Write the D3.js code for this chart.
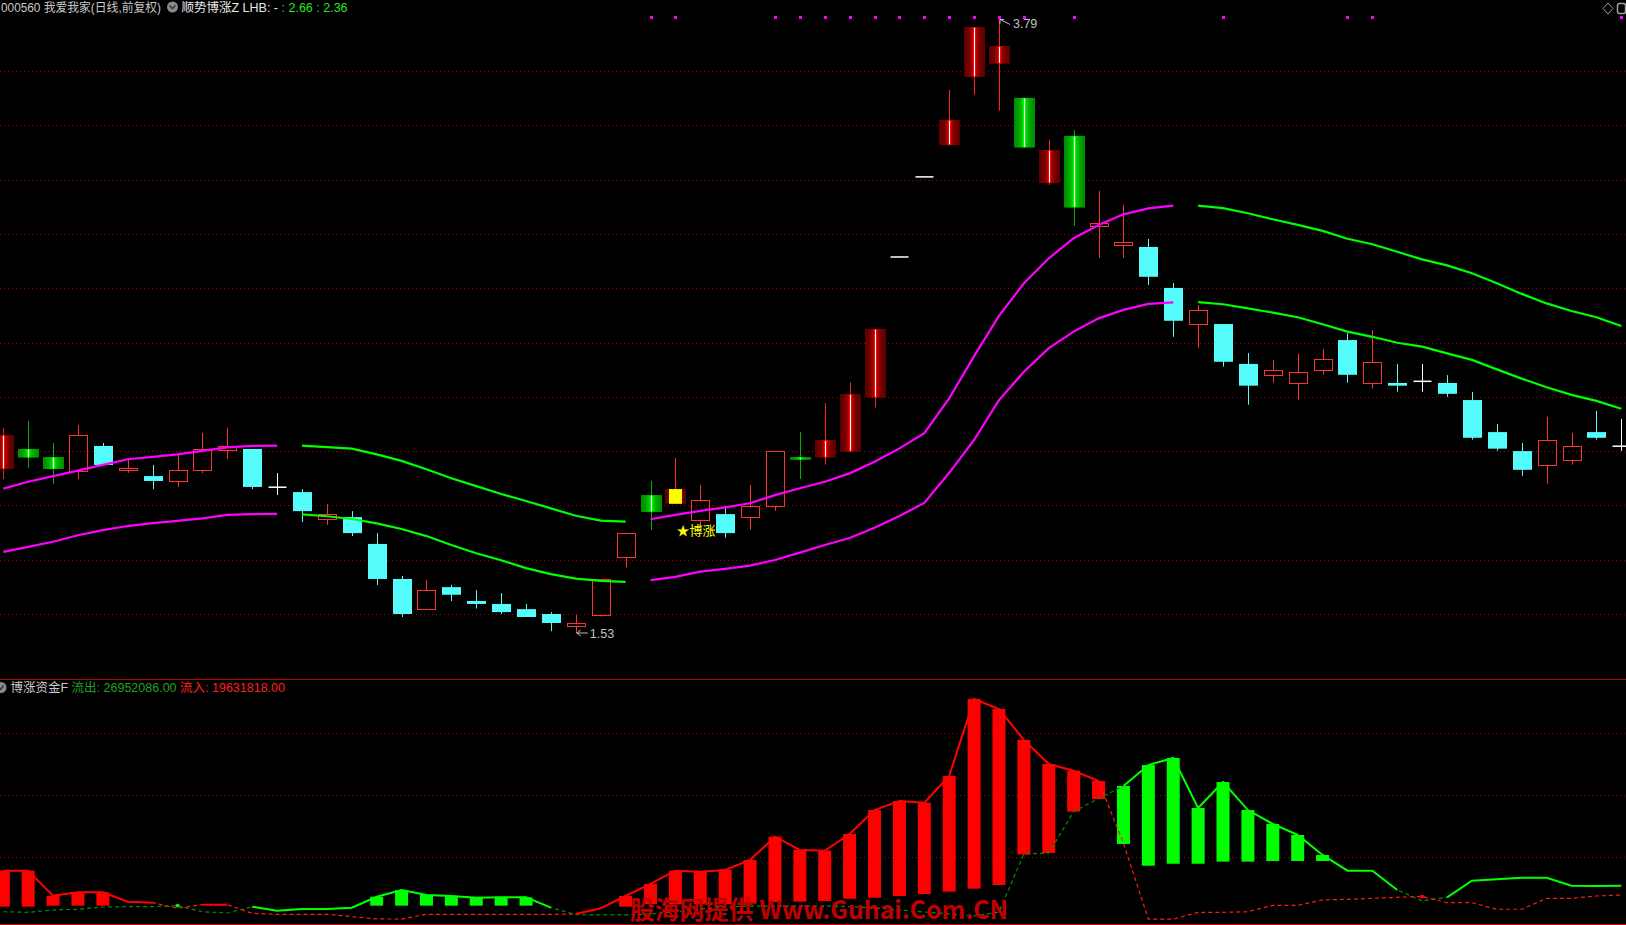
<!DOCTYPE html>
<html><head><meta charset="utf-8">
<script src="https://cdn.jsdelivr.net/npm/d3@7"></script>
<style>
html,body{margin:0;padding:0;background:#000;overflow:hidden}
svg{display:block}
text{font-family:"Liberation Sans","Noto Sans CJK SC",sans-serif}
</style></head><body>
<svg id="chart" width="1626" height="925"></svg>
<script>
// ---------- data ----------
const openP=[2.134,2.208,2.178,2.128,2.219,2.128,2.108,2.087,2.128,2.205, 2.208,2.067,2.049,1.947,1.957,1.858,1.729,1.616,1.699,1.648, 1.637,1.618,1.600,1.557,1.597,1.807,2.038,2.006,1.947,1.968, 1.955,1.995,2.178,2.176,2.198,2.397,2.915,3.21,3.327,3.578, 3.627,3.501,3.187,3.361,3.027,2.958,2.952,2.801,2.666,2.668, 2.521,2.479,2.450,2.498,2.609,2.450,2.451,2.457,2.451,2.388, 2.270,2.200,2.148,2.168,2.270,2.218];
const highP=[2.285,2.311,2.230,2.296,2.230,2.170,2.149,2.188,2.267,2.285, 2.208,2.119,2.060,2.005,1.979,1.898,1.740,1.725,1.708,1.688, 1.677,1.637,1.607,1.596,1.728,1.897,2.090,2.175,2.075,1.998, 2.075,2.199,2.270,2.377,2.453,2.650,2.915,3.21,3.53,3.762, 3.79,3.501,3.346,3.383,3.158,3.106,2.981,2.819,2.738,2.668, 2.561,2.536,2.558,2.576,2.634,2.646,2.521,2.521,2.480,2.418, 2.300,2.230,2.326,2.267,2.348,2.318];
const lowP=[2.097,2.139,2.080,2.097,2.149,2.120,2.060,2.068,2.119,2.171, 2.060,2.038,1.939,1.928,1.887,1.707,1.589,1.616,1.648,1.620, 1.600,1.589,1.537,1.530,1.590,1.771,1.909,2.006,1.928,1.881, 1.910,1.980,2.097,2.150,2.198,2.361,2.915,3.21,3.327,3.513, 3.454,3.318,3.180,3.029,2.912,2.912,2.812,2.621,2.581,2.511, 2.371,2.452,2.389,2.481,2.452,2.430,2.419,2.419,2.400,2.242, 2.201,2.109,2.080,2.150,2.242,2.201];
const closeP=[2.259,2.176,2.134,2.259,2.149,2.137,2.090,2.129,2.207,2.218, 2.068,2.067,1.979,1.967,1.898,1.729,1.600,1.687,1.671,1.637, 1.607,1.589,1.567,1.567,1.728,1.897,1.976,2.060,2.019,1.898, 1.997,2.199,2.168,2.241,2.410,2.650,2.915,3.21,3.420,3.762, 3.692,3.318,3.309,3.097,3.039,2.969,2.842,2.680,2.719,2.529, 2.441,2.498,2.490,2.538,2.481,2.527,2.441,2.457,2.411,2.249, 2.209,2.131,2.240,2.218,2.249,2.218];
// indicator candle state: 1 = strong (red), -1 = weak (green), 2 = 博涨 signal, 0 = plain
const signalState=[1,-1,-1,0,0,0,0,0,0,0, 0,0,0,0,0,0,0,0,0,0, 0,0,0,0,0,0,-1,2,0,0, 0,0,-1,1,1,1,0,0,1,1, 1,-1,1,-1,0,0,0,0,0,0, 0,0,0,0,0,0,0,0,0,0, 0,0,0,0,0,0];
const upperBand=[2.062,2.087,2.108,2.128,2.149,2.170,2.179,2.188,2.201,2.214, 2.219,2.220,2.220,2.215,2.209,2.188,2.164,2.133,2.100,2.071, 2.042,2.016,1.989,1.962,1.944,1.940,1.949,1.965,1.980,1.993, 2.008,2.038,2.063,2.087,2.118,2.161,2.210,2.266,2.394,2.550, 2.698,2.818,2.910,2.984,3.033,3.072,3.094,3.104,3.104,3.095, 3.076,3.054,3.033,3.011,2.982,2.962,2.934,2.906,2.884,2.855, 2.818,2.779,2.744,2.716,2.693,2.661];
const lowerBand=[1.829,1.847,1.866,1.890,1.909,1.924,1.935,1.943,1.952,1.965, 1.968,1.969,1.967,1.960,1.950,1.934,1.913,1.887,1.854,1.824, 1.798,1.769,1.747,1.730,1.722,1.718,1.725,1.737,1.756,1.766, 1.778,1.799,1.826,1.854,1.880,1.918,1.961,2.009,2.120,2.241, 2.388,2.492,2.579,2.640,2.689,2.720,2.742,2.748,2.749,2.741, 2.726,2.710,2.693,2.667,2.640,2.621,2.599,2.585,2.560,2.536, 2.501,2.467,2.435,2.407,2.385,2.356];
// 1 = rising band (magenta), -1 = falling band (green)
const bandTrend=[1,1,1,1,1,1,1,1,1,1, 1,1,-1,-1,-1,-1,-1,-1,-1,-1, -1,-1,-1,-1,-1,-1,1,1,1,1, 1,1,1,1,1,1,1,1,1,1, 1,1,1,1,1,1,1,1,-1,-1, -1,-1,-1,-1,-1,-1,-1,-1,-1,-1, -1,-1,-1,-1,-1,-1];
const alertDays=[26,27,31,32,33,34,35,36,37,38,39,40,41,43,49,54,55,65];
const priceTicks=[1.6,1.8,2.0,2.2,2.4,2.6,2.8,3.0,3.2,3.4,3.6];
// money flow panel (millions)
const inflow=[39.2,39.2,19.0,21.8,21.8,14.2,13.4,8.9,11.8,11.8, 4.8,4.0,4.0,4.0,2.1,0.3,0.2,4.0,4.0,4.0, 4.0,4.0,4.0,4.3,8.9,18.8,28.5,39.2,38.4,39.8, 47.8,66.6,55.9,55.3,68.8,88.1,95.4,94.0,115.6,177.7, 169.6,144.6,125.2,119.8,111.5,61.3,0.2,0.2,5.6,5.6, 6.1,11.3,11.3,15.6,16.1,16.9,17.7,18.4,13.4,13.4, 8.1,8.1,16.9,16.9,18.8,19.6];
const outflow=[6.1,5.6,7.5,8.1,9.9,10.2,10.2,11.0,6.1,5.1, 10.2,6.9,8.3,8.3,9.4,18.2,23.6,19.6,18.8,17.4, 17.7,17.7,9.4,3.8,3.5,3.5,4.3,5.9,8.3,9.9, 10.7,10.7,10.7,10.7,10.2,9.1,7.5,5.9,4.3,2.7, 5.9,52.7,53.5,86.8,97.4,107.5,124.4,130.1,89.8,110.7, 88.1,76.9,68.0,51.9,39.2,39.2,23.6,15.0,17.7,31.1, 32.3,33.5,33.5,27.1,26.9,27.0];
const stickBase=[10.2,10.2,11.0,11.0,11.0,null,null,null,null,null, null,null,null,null,null,11.0,11.0,11.0,11.0,11.0, 11.0,11.0,null,null,null,10.2,12.3,12.3,12.3,12.3, 12.7,14.0,14.2,14.8,16.6,17.4,18.8,20.4,22.3,24.7, 27.7,52.3,53.5,86.8,97.0,60.7,43.2,44.8,44.8,46.5, 46.5,47.0,47.0,47.0,null,null,null,null,null,null, null,null,null,null,null,null];
const flowTicks=[50,100,150];
const lastOut="26952086.00", lastIn="19631818.00";

// ---------- scales ----------
const N=openP.length;
const svg=d3.select("#chart");
svg.append("rect").attr("width",1626).attr("height",925).attr("fill","#000");
const x=d3.scaleLinear().domain([0,N-1]).range([3.3,1621.3]);
const y=d3.scaleLinear().domain([1.6,3.6]).range([614,71]);
const yB=d3.scaleLinear().domain([0,150]).range([919.3,733.3]);

const defs=svg.append("defs");
function grad(id,stops){
  const g=defs.append("linearGradient").attr("id",id).attr("x1","0%").attr("x2","100%").attr("y1","0%").attr("y2","0%");
  stops.forEach(s=>g.append("stop").attr("offset",s[0]).attr("stop-color",s[1]));
}
grad("gRed",[["0%","#5a0000"],["25%","#760000"],["40%","#b00000"],["47%","#ff1010"],["53%","#ff1010"],["60%","#b00000"],["75%","#760000"],["100%","#5a0000"]]);
grad("gGreen",[["0%","#008a00"],["25%","#00a800"],["40%","#00d000"],["47%","#10ff10"],["53%","#10ff10"],["60%","#00d000"],["75%","#00a800"],["100%","#008a00"]]);

// ---------- grid ----------
const grid=svg.append("g");
grid.selectAll("line.pg").data(priceTicks).join("line")
  .attr("x1",0).attr("x2",1626).attr("y1",d=>Math.round(y(d))+0.5).attr("y2",d=>Math.round(y(d))+0.5)
  .attr("stroke","#a00000").attr("stroke-dasharray","1,3");
grid.selectAll("line.fg").data(flowTicks).join("line")
  .attr("x1",0).attr("x2",1626).attr("y1",d=>Math.round(yB(d))+0.5).attr("y2",d=>Math.round(yB(d))+0.5)
  .attr("stroke","#a00000").attr("stroke-dasharray","1,3");
svg.append("line").attr("x1",0).attr("x2",1626).attr("y1",679.5).attr("y2",679.5).attr("stroke","#b00000");
svg.append("line").attr("x1",0).attr("x2",1626).attr("y1",924.5).attr("y2",924.5).attr("stroke","#c00000");

// ---------- candles ----------
const cg=svg.append("g");
const idx=d3.range(N);
idx.forEach(i=>{
  const cx=Math.round(x(i))+0.5, o=openP[i], c=closeP[i], h=highP[i], l=lowP[i], s=signalState[i];
  const yt=y(Math.max(o,c)), yb=y(Math.min(o,c));
  if(o===c && h===l){
    cg.append("line").attr("x1",cx-9).attr("x2",cx+9).attr("y1",y(c)).attr("y2",y(c)).attr("stroke","#fff").attr("stroke-width",1.5);
    return;
  }
  if(o===c){
    cg.append("line").attr("x1",cx).attr("x2",cx).attr("y1",y(h)).attr("y2",y(l)).attr("stroke","#fff");
    cg.append("line").attr("x1",cx-9).attr("x2",cx+9).attr("y1",y(c)).attr("y2",y(c)).attr("stroke","#fff").attr("stroke-width",1.5);
    return;
  }
  if(s!==0){
    const red=s>0, wc=red?"#ff2020":"#00b000";
    cg.append("line").attr("x1",cx).attr("x2",cx).attr("y1",y(h)).attr("y2",y(l)).attr("stroke",wc);
    cg.append("rect").attr("x",cx-10.5).attr("width",21).attr("y",yt).attr("height",Math.max(2.5,yb-yt))
      .attr("fill",red?"url(#gRed)":"url(#gGreen)");
    cg.append("line").attr("x1",cx).attr("x2",cx).attr("y1",yt+1).attr("y2",yt+Math.max(2.5,yb-yt)-1).attr("stroke","#fff");
    if(s===2){
      cg.append("rect").attr("x",cx-6.5).attr("width",13).attr("y",yt).attr("height",yb-yt).attr("fill","#ffff00");
    }
    return;
  }
  if(c>o){
    const col="#ff3232";
    cg.append("line").attr("x1",cx).attr("x2",cx).attr("y1",y(h)).attr("y2",yt).attr("stroke",col);
    cg.append("line").attr("x1",cx).attr("x2",cx).attr("y1",yb).attr("y2",y(l)).attr("stroke",col);
    cg.append("rect").attr("x",cx-9).attr("width",18).attr("y",Math.round(yt)+0.5).attr("height",Math.max(1,Math.round(yb-yt)))
      .attr("fill","none").attr("stroke",col);
  } else {
    const col="#54fcfc";
    cg.append("line").attr("x1",cx).attr("x2",cx).attr("y1",y(h)).attr("y2",y(l)).attr("stroke",col);
    cg.append("rect").attr("x",cx-9.5).attr("width",19).attr("y",yt).attr("height",Math.max(1.5,yb-yt)).attr("fill",col);
  }
});

// ---------- bands ----------
[[1,"#ff00ff"],[-1,"#00ff00"]].forEach(([t,col])=>{
  [upperBand,lowerBand].forEach(arr=>{
    const ln=d3.line().defined(i=>bandTrend[i]===t).x(i=>x(i)).y(i=>y(arr[i]));
    svg.append("path").attr("d",ln(idx)).attr("fill","none").attr("stroke",col).attr("stroke-width",2.2);
  });
});

// alert dots
svg.selectAll("rect.dot").data(alertDays).join("rect")
  .attr("x",d=>Math.round(x(d))-1).attr("y",16).attr("width",3).attr("height",3).attr("fill","#ff00ff");

// high / low markers
const hiI=d3.maxIndex(highP), loI=d3.minIndex(lowP);
const hx=x(hiI), hy=y(highP[hiI]);
svg.append("path").attr("d",`M${hx+1},${hy} L${hx+11},${hy+5} M${hx+1},${hy} l4,0 M${hx+1},${hy} l0,4`)
  .attr("stroke","#c0c0c0").attr("fill","none");
svg.append("text").attr("x",hx+14).attr("y",hy+9).attr("fill","#c0c0c0").attr("font-size",12.5).text(highP[hiI].toFixed(2));
const lx=x(loI), ly=y(lowP[loI]);
svg.append("path").attr("d",`M${lx+1},${ly} L${lx+12},${ly} M${lx+1},${ly} l4,-3 M${lx+1},${ly} l4,3`)
  .attr("stroke","#c0c0c0").attr("fill","none");
svg.append("text").attr("x",lx+14).attr("y",ly+5).attr("fill","#c0c0c0").attr("font-size",12.5).text(lowP[loI].toFixed(2));

// 博涨 signal label
const sigI=signalState.indexOf(2);
svg.append("text").attr("x",x(sigI)+1).attr("y",y(lowP[sigI])+31).attr("fill","#ffff00").attr("font-size",13).text("★博涨");

// ---------- money flow panel ----------
const bg=svg.append("g");
idx.filter(i=>stickBase[i]!==null).forEach(i=>{
  const up=inflow[i]>=outflow[i];
  const top=up?inflow[i]:outflow[i];
  bg.append("rect").attr("x",x(i)-6.5).attr("width",13).attr("y",yB(top)).attr("height",yB(stickBase[i])-yB(top))
    .attr("fill",up?"#ff0000":"#00ff00");
});
const dashIn=d3.line().x(i=>x(i)).y(i=>yB(inflow[i]));
const dashOut=d3.line().x(i=>x(i)).y(i=>yB(outflow[i]));
svg.append("path").attr("d",dashOut(idx)).attr("fill","none").attr("stroke","#009000").attr("stroke-width",1.2).attr("stroke-dasharray","4,3");
svg.append("path").attr("d",dashIn(idx)).attr("fill","none").attr("stroke","#ff1a1a").attr("stroke-width",1.2).attr("stroke-dasharray","4,3");
const inDom=i=>inflow[i]>=outflow[i];
svg.append("path").attr("d",d3.line().defined(i=>inDom(i)).x(i=>x(i)).y(i=>yB(inflow[i]))(idx))
  .attr("fill","none").attr("stroke","#ff0000").attr("stroke-width",2);
svg.append("path").attr("d",d3.line().defined(i=>!inDom(i)).x(i=>x(i)).y(i=>yB(outflow[i]))(idx))
  .attr("fill","none").attr("stroke","#00ff00").attr("stroke-width",2);
// isolated dominant points
idx.forEach(i=>{
  const d=inDom(i);
  const prev=i>0?inDom(i-1)===d:false, next=i<N-1?inDom(i+1)===d:false;
  if(!prev&&!next){
    const v=d?inflow[i]:outflow[i];
    svg.append("rect").attr("x",x(i)-2).attr("y",yB(v)-1.5).attr("width",4).attr("height",3).attr("fill",d?"#ff0000":"#00ff00");
  }
});

// watermark
svg.append("text").attr("x",630).attr("y",919).attr("fill","#c00000").attr("font-size",25).attr("font-weight","bold")
  .attr("textLength",378).attr("lengthAdjust","spacingAndGlyphs")
  .style("font-family","'Noto Sans CJK SC',sans-serif").text("股海网提供 Www.Guhai.Com.CN");

// ---------- headers ----------
svg.append("text").attr("x",1).attr("y",12).attr("fill","#c8c8c8").attr("font-size",12.5)
  .attr("textLength",160).attr("lengthAdjust","spacingAndGlyphs").text("000560 我爱我家(日线,前复权)");
svg.append("circle").attr("cx",172.5).attr("cy",7).attr("r",5.5).attr("fill","#8a8a8a");
svg.append("path").attr("d","M169.5,5.5 L172.5,8.5 L175.5,5.5").attr("stroke","#303030").attr("stroke-width",1.5).attr("fill","none");
const h1=svg.append("text").attr("x",181.5).attr("y",12).attr("font-size",12.5);
h1.append("tspan").attr("fill","#e8e8e8").text("顺势博涨Z LHB: -");
h1.append("tspan").attr("fill","#22e622").text(" : "+upperBand[N-1].toFixed(2)+" : "+lowerBand[N-1].toFixed(2));

svg.append("circle").attr("cx",1).attr("cy",687.5).attr("r",5.5).attr("fill","#8a8a8a");
svg.append("path").attr("d","M-1.5,687.5 L0.5,689.5 L3.5,685.5").attr("stroke","#303030").attr("stroke-width",1.3).attr("fill","none");
const h2=svg.append("text").attr("x",10.5).attr("y",692).attr("font-size",12.5);
h2.append("tspan").attr("fill","#c8c8c8").text("博涨资金F ");
h2.append("tspan").attr("fill","#20a020").text("流出: "+lastOut+" ");
h2.append("tspan").attr("fill","#ff2020").text("流入: "+lastIn);

// top-right icons
svg.append("path").attr("d","M1608,3 L1613,8.5 L1608,14 L1603,8.5 Z").attr("fill","none").attr("stroke","#a0a0a0");
svg.append("rect").attr("x",1617.5).attr("y",3.5).attr("width",8).attr("height",10).attr("rx",2).attr("fill","none").attr("stroke","#a0a0a0").attr("stroke-width",1.5);
</script>
</body></html>
